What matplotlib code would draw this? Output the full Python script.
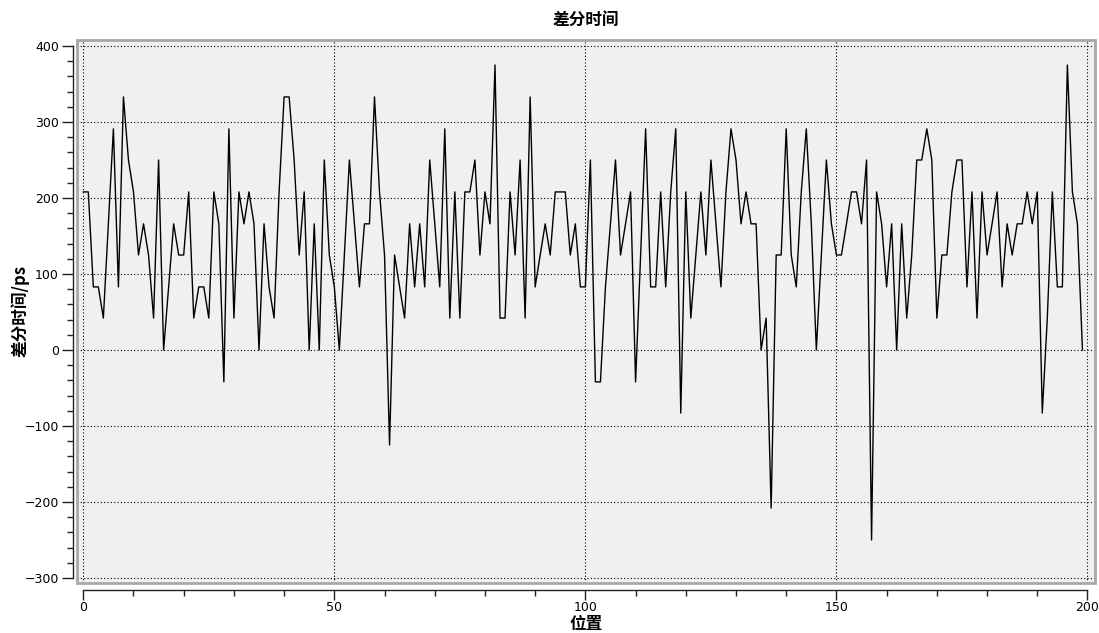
import numpy as np
import matplotlib
matplotlib.use('Agg')
import matplotlib.pyplot as plt
from matplotlib.ticker import MultipleLocator
from matplotlib.patches import Rectangle

plt.rcParams['font.family'] = ['DejaVu Sans', 'Noto Sans CJK SC']

title = '差分时间'
xlabel = '位置'
ylabel = '差分时间/ps'

# differential time per position, ps (~41.7 ps steps)
diff_ps = [
    208, 208, 83, 83, 42, 166, 291, 83, 333, 250,
    208, 125, 166, 125, 42, 250, 0, 83, 166, 125,
    125, 208, 42, 83, 83, 42, 208, 166, -42, 291,
    42, 208, 166, 208, 166, 0, 166, 83, 42, 208,
    333, 333, 250, 125, 208, 0, 166, 0, 250, 125,
    83, 0, 125, 250, 166, 83, 166, 166, 333, 208,
    125, -125, 125, 83, 42, 166, 83, 166, 83, 250,
    166, 83, 291, 42, 208, 42, 208, 208, 250, 125,
    208, 166, 375, 42, 42, 208, 125, 250, 42, 333,
    83, 125, 166, 125, 208, 208, 208, 125, 166, 83,
    83, 250, -42, -42, 83, 166, 250, 125, 166, 208,
    -42, 125, 291, 83, 83, 208, 83, 208, 291, -83,
    208, 42, 125, 208, 125, 250, 166, 83, 208, 291,
    250, 166, 208, 166, 166, 0, 42, -208, 125, 125,
    291, 125, 83, 208, 291, 166, 0, 125, 250, 166,
    125, 125, 166, 208, 208, 166, 250, -250, 208, 166,
    83, 166, 0, 166, 42, 125, 250, 250, 291, 250,
    42, 125, 125, 208, 250, 250, 83, 208, 42, 208,
    125, 166, 208, 83, 166, 125, 166, 166, 208, 166,
    208, -83, 42, 208, 83, 83, 375, 208, 166, 0,
]
pos = np.arange(len(diff_ps))

W, H = 1099, 633
fig = plt.figure(figsize=(W / 100, H / 100), dpi=100)
fig.patch.set_facecolor('white')

# canvas box in pixels: left 77, right 1095, top 40, bottom 583
ax = fig.add_axes([77 / W, (H - 583) / H, (1095 - 77) / W, (583 - 40) / H])
ax.set_facecolor('#f0f0f0')

ax.plot(pos, diff_ps, color='black', lw=1.0, zorder=3)

ax.set_xlim(-1.25, 201.5)
ax.set_ylim(-306.6, 407.9)

ax.xaxis.set_major_locator(MultipleLocator(50))
ax.xaxis.set_minor_locator(MultipleLocator(10))
ax.yaxis.set_major_locator(MultipleLocator(100))
ax.yaxis.set_minor_locator(MultipleLocator(20))

ax.grid(which='major', color='black', linestyle=(0, (1, 2)), lw=0.8, zorder=1)

for s in ['top', 'right']:
    ax.spines[s].set_visible(False)
ax.spines['left'].set_position(('outward', 3))
ax.spines['left'].set_bounds(-300, 400)
ax.spines['bottom'].set_position(('outward', 5))
ax.spines['bottom'].set_bounds(0, 200)
for s in ['left', 'bottom']:
    ax.spines[s].set_color('#222222')
    ax.spines[s].set_linewidth(1.0)

ax.tick_params(which='major', length=8, width=1, labelsize=9, pad=2, color='#222222')
ax.tick_params(axis='x', which='major', length=7, pad=1)
ax.tick_params(which='minor', length=4, width=1, color='#222222')

# sunken canvas frame
ax.add_patch(Rectangle((0, 0), 1, 1, transform=ax.transAxes, fill=False,
                       ec='#a8a8a8', lw=2, clip_on=False, zorder=5))

cjk = ['Noto Sans CJK SC', 'DejaVu Sans']
fig.text(586 / W, 1 - 20 / H, title, ha='center', va='center',
         fontsize=12, fontweight='bold', family=cjk)
fig.text(586 / W, 1 - 624 / H, xlabel, ha='center', va='center',
         fontsize=12, fontweight='bold', family=cjk)
fig.text(20 / W, 1 - 311 / H, ylabel, ha='center', va='center', rotation=90,
         fontsize=12, fontweight='bold', family=cjk)

fig.savefig('out.png', dpi=100)
